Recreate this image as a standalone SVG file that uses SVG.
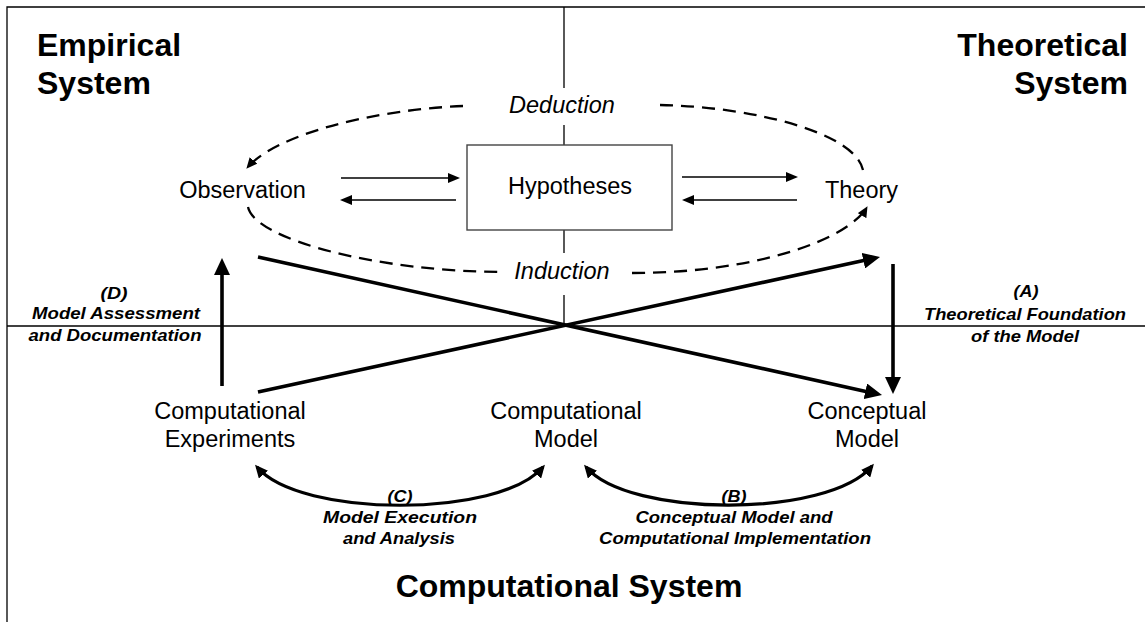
<svg xmlns="http://www.w3.org/2000/svg" width="1145" height="628" viewBox="0 0 1145 628">
<style>
text{font-family:"Liberation Sans",Arial,sans-serif;fill:#000}
.title{font-size:32px;font-weight:bold}
.node{font-size:23.5px;text-anchor:middle}
.it{font-size:23.5px;font-style:italic;text-anchor:middle}
.lab{font-size:16.5px;font-weight:bold;font-style:italic;text-anchor:middle}
.frame{stroke:#000;stroke-width:1.3;fill:none}
.thin{stroke:#000;stroke-width:1.6;fill:none;marker-end:url(#aThin)}
.thick{stroke:#000;stroke-width:3.6;fill:none;marker-end:url(#aThick)}
.dash{stroke:#000;stroke-width:2.3;fill:none;stroke-dasharray:13 8}
.arc{stroke:#000;stroke-width:3.2;fill:none;marker-start:url(#aArc);marker-end:url(#aArc)}
</style>
<defs>
<marker id="aThin" markerUnits="userSpaceOnUse" viewBox="0 -5 12 10" refX="9" refY="0" markerWidth="12" markerHeight="10" orient="auto"><path d="M0,-5 L12,0 L0,5 z" fill="#000"/></marker>
<marker id="aThick" markerUnits="userSpaceOnUse" viewBox="0 -8 17 16" refX="12" refY="0" markerWidth="17" markerHeight="16" orient="auto"><path d="M0,-8 L17,0 L0,8 z" fill="#000"/></marker>
<marker id="aDash" markerUnits="userSpaceOnUse" viewBox="0 -5 11 10" refX="10" refY="0" markerWidth="11" markerHeight="10" orient="auto"><path d="M0,-5 L11,0 L0,5 z" fill="#000"/></marker>
<marker id="aArc" markerUnits="userSpaceOnUse" viewBox="0 -6 13 12" refX="10" refY="0" markerWidth="13" markerHeight="12" orient="auto-start-reverse"><path d="M0,-6 L13,0 L0,6 z" fill="#000"/></marker>
</defs>

<g id="frame">
<path class="frame" d="M7,622 V7 H1145"/>
<path class="frame" d="M7,326 H1145"/>
<path class="frame" d="M564,7 V88 M564,125 V145 M564,230 V253 M564,295 V326"/>
</g>

<g id="titles">
<text class="title" x="37" y="56">Empirical</text>
<text class="title" x="37" y="94">System</text>
<text class="title" x="1128" y="56" text-anchor="end">Theoretical</text>
<text class="title" x="1128" y="94" text-anchor="end">System</text>
<text class="title" x="569" y="597" text-anchor="middle">Computational System</text>
</g>

<g id="connectors">
<path class="dash" d="M463,106 C370,110 275,135 247,168" marker-end="url(#aDash)"/>
<path class="dash" d="M660,105 C755,107 855,133 863,170"/>
<path class="dash" d="M248,207 C255,240 380,272 505,272"/>
<path class="dash" d="M632,273 C755,273 848,240 867,207" marker-end="url(#aDash)"/>
<path class="thin" d="M341,178 H457"/>
<path class="thin" d="M456,200 H343"/>
<path class="thin" d="M682,177 H795"/>
<path class="thin" d="M797,200 H685"/>
<path class="thick" d="M258,257 L877.1,393.9"/>
<path class="thick" d="M258,392 L875.1,258.1"/>
<path class="thick" d="M893,264 V389"/>
<path class="thick" d="M222,386 V263"/>
<path class="arc" d="M257,467 C300,518 500,518 543,467"/>
<path class="arc" d="M586,467 C629,518 829,518 872,466"/>
</g>

<g id="deduction"><text class="it" x="562" y="113">Deduction</text></g>
<g id="induction"><text class="it" x="562" y="279">Induction</text></g>

<g id="observation"><text class="node" x="242.5" y="198">Observation</text></g>
<g id="hypotheses">
<rect x="467" y="145" width="205" height="85" fill="#fff" stroke="#444" stroke-width="1.4"/>
<text class="node" x="570" y="194">Hypotheses</text>
</g>
<g id="theory"><text class="node" x="861.5" y="198">Theory</text></g>

<g id="computational-experiments">
<text class="node" x="230" y="419">Computational</text>
<text class="node" x="230" y="447">Experiments</text>
</g>
<g id="computational-model">
<text class="node" x="566" y="419">Computational</text>
<text class="node" x="566" y="447">Model</text>
</g>
<g id="conceptual-model">
<text class="node" x="867" y="419">Conceptual</text>
<text class="node" x="867" y="447">Model</text>
</g>

<g id="label-d">
<text class="lab" x="114" y="299" textLength="27" lengthAdjust="spacingAndGlyphs">(D)</text>
<text class="lab" x="116" y="319" textLength="168" lengthAdjust="spacingAndGlyphs">Model Assessment</text>
<text class="lab" x="115" y="341" textLength="173" lengthAdjust="spacingAndGlyphs">and Documentation</text>
</g>
<g id="label-a">
<text class="lab" x="1026" y="297" textLength="25" lengthAdjust="spacingAndGlyphs">(A)</text>
<text class="lab" x="1025" y="320" textLength="202" lengthAdjust="spacingAndGlyphs">Theoretical Foundation</text>
<text class="lab" x="1025" y="342" textLength="108" lengthAdjust="spacingAndGlyphs">of the Model</text>
</g>
<g id="label-c">
<text class="lab" x="400" y="502" textLength="25" lengthAdjust="spacingAndGlyphs">(C)</text>
<text class="lab" x="400" y="523" textLength="154" lengthAdjust="spacingAndGlyphs">Model Execution</text>
<text class="lab" x="399" y="544" textLength="112" lengthAdjust="spacingAndGlyphs">and Analysis</text>
</g>
<g id="label-b">
<text class="lab" x="734" y="502" textLength="25" lengthAdjust="spacingAndGlyphs">(B)</text>
<text class="lab" x="734" y="523" textLength="197" lengthAdjust="spacingAndGlyphs">Conceptual Model and</text>
<text class="lab" x="735" y="544" textLength="272" lengthAdjust="spacingAndGlyphs">Computational Implementation</text>
</g>
</svg>
